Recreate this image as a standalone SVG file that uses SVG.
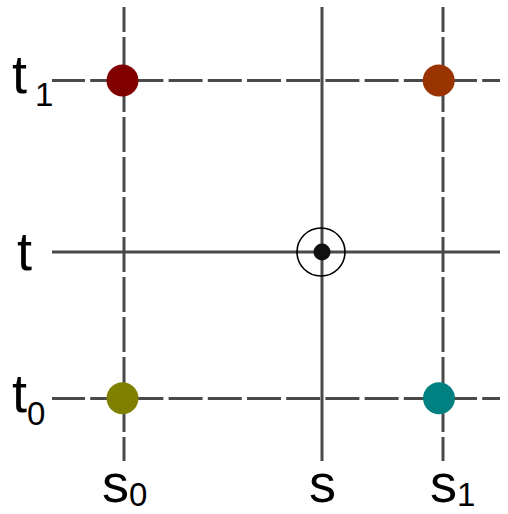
<svg xmlns="http://www.w3.org/2000/svg" width="508" height="514" viewBox="0 0 508 514">
<style>
.ln{stroke:#4a4a4a;stroke-width:3;fill:none}
.dh{stroke-dasharray:34 5.2;stroke-dashoffset:1}
.dv{stroke-dasharray:35 5;stroke-dashoffset:10}
.lab{font-family:"Liberation Sans",Arial,sans-serif;fill:#000}
.big{font-size:54px}
.sub{font-size:33px}
</style>
<rect width="508" height="514" fill="#fff"/>
<g id="connectors">
<line class="ln dh" x1="52" y1="80.5" x2="500" y2="80.5"/>
<line class="ln dh" x1="52" y1="398.5" x2="500" y2="398.5"/>
<line class="ln" x1="52" y1="252" x2="500" y2="252"/>
<line class="ln dv" x1="124" y1="7" x2="124" y2="461"/>
<line class="ln dv" x1="443" y1="7" x2="443" y2="461"/>
<line class="ln" x1="322" y1="7" x2="322" y2="461"/>
</g>
<g id="p_s0_t1"><circle cx="122.5" cy="80.5" r="16" fill="#800000"/></g>
<g id="p_s1_t1"><circle cx="438.7" cy="80.5" r="16" fill="#993300"/></g>
<g id="p_s0_t0"><circle cx="122.5" cy="398.3" r="16" fill="#808000"/></g>
<g id="p_s1_t0"><circle cx="439" cy="398.3" r="16" fill="#008080"/></g>
<g id="p_st">
<circle cx="321" cy="252" r="24" fill="none" stroke="#000" stroke-width="1.6"/>
<circle cx="322" cy="252" r="8.5" fill="#111"/>
</g>
<g id="labels">
<text class="lab big" x="12" y="93">t</text><text class="lab sub" x="35" y="106">1</text>
<text class="lab big" x="17" y="270">t</text>
<text class="lab big" x="12" y="412">t</text><text class="lab sub" x="27" y="425">0</text>
<text class="lab big" x="102" y="502">s</text><text class="lab sub" x="129" y="506">0</text>
<text class="lab big" x="309" y="502">s</text>
<text class="lab big" x="430" y="502">s</text><text class="lab sub" x="457" y="506">1</text>
</g>
</svg>
